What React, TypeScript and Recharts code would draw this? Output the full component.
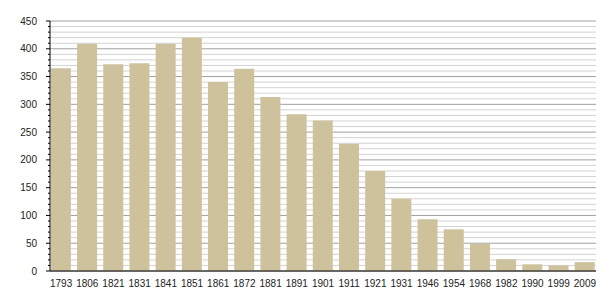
import React from "react";
import { BarChart, Bar, XAxis, YAxis, CartesianGrid } from "recharts";

const years = [
  "1793", "1806", "1821", "1831", "1841", "1851", "1861", "1872", "1881", "1891",
  "1901", "1911", "1921", "1931", "1946", "1954", "1968", "1982", "1990", "1999", "2009",
];
const population = [
  365, 409, 372, 374, 409, 420, 340, 364, 313, 282,
  271, 229, 180, 130, 93, 75, 49, 21, 12, 10, 16,
];
const yTicks = [
  0, 10, 20, 30, 40, 50, 60, 70, 80, 90, 100, 110, 120, 130, 140, 150, 160, 170, 180, 190,
  200, 210, 220, 230, 240, 250, 260, 270, 280, 290, 300, 310, 320, 330, 340, 350, 360, 370,
  380, 390, 400, 410, 420, 430, 440, 450,
];

const data = years.map((year, i) => ({ year, value: population[i] }));

const FONT = "'Liberation Sans', Arial, sans-serif";

function YTick(props: any) {
  const { x, y, payload } = props;
  const major = payload.value % 50 === 0;
  return (
    <g>
      <line x1={x - (major ? 4 : 2)} x2={x} y1={y} y2={y} stroke="#000" />
      {major && (
        <text x={x - 13} y={y} dy="0.35em" textAnchor="end" fontSize={10} fontFamily={FONT} fill="#222">
          {payload.value}
        </text>
      )}
    </g>
  );
}

function GridLine(props: any) {
  const { x1, x2, y1, y2, index } = props;
  const major = index % 5 === 0;
  return <line x1={x1} x2={x2} y1={y1} y2={y2} stroke={major ? "#a0a0a0" : "#d2d2d2"} strokeWidth={1} />;
}

export default function App() {
  return (
    <div style={{ position: "absolute", left: 0, top: 0 }}>
      <BarChart
        width={605}
        height={300}
        data={data}
        margin={{ top: 21, right: 9, bottom: 9, left: 0 }}
        barCategoryGap="11%"
      >
        <CartesianGrid vertical={false} horizontal={GridLine} />
        <XAxis
          dataKey="year"
          tickLine={false}
          axisLine={{ stroke: "#000" }}
          tickMargin={3}
          interval={0}
          height={20}
          padding={{ left: -2, right: -2 }}
          tick={{ fontSize: 10, fontFamily: FONT, fill: "#222" }}
        />
        <YAxis
          width={50}
          domain={[0, 450]}
          ticks={yTicks}
          interval={0}
          tickLine={false}
          tickSize={0}
          tickMargin={0}
          axisLine={{ stroke: "#000" }}
          tick={YTick}
        />
        <Bar dataKey="value" fill="#cdc29c" isAnimationActive={false} />
      </BarChart>
    </div>
  );
}
